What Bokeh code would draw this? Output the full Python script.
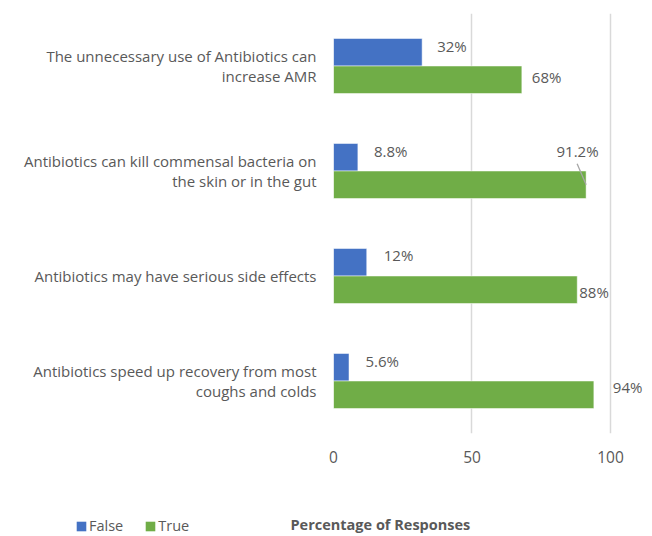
from bokeh.plotting import figure
from bokeh.models import (ColumnDataSource, FixedTicker, Legend, LegendItem, Label, Range1d)
from bokeh.layouts import column
from bokeh.embed import file_html
from bokeh.resources import INLINE
from bokeh.core.properties import value

# ---- data ----
categories = [
    "The unnecessary use of Antibiotics can\nincrease AMR",
    "Antibiotics can kill commensal bacteria on\nthe skin or in the gut",
    "Antibiotics may have serious side effects",
    "Antibiotics speed up recovery from most\ncoughs and colds",
]
series_names = ["False", "True"]
false_vals = [32, 8.8, 12, 5.6]
true_vals = [68, 91.2, 88, 94]
false_labels = ["32%", "8.8%", "12%", "5.6%"]
true_labels = ["68%", "91.2%", "88%", "94%"]
x_ticks = [0, 50, 100]
axis_title = "Percentage of Responses"

# ---- styles ----
FONT = "Open Sans"
GRAY = "#595959"
BLUE = "#4472C4"
GREEN = "#70AD47"
BAR_H = 0.262
# label nudges (screen px)
false_dx = [15, 16, 17, 16.5]
false_dy = [-6, -6, -7, -6]
true_dx = [10, -29.6, 2, 19]
true_dy = [-3, -34, 2.5, -8]

n = len(categories)
pos = [n - 1 - i for i in range(n)]  # first category at the top

src_f = ColumnDataSource(dict(y=[q + BAR_H / 2 for q in pos], v=false_vals,
                              lab=false_labels, dx=false_dx, dy=false_dy))
src_t = ColumnDataSource(dict(y=[q - BAR_H / 2 for q in pos], v=true_vals,
                              lab=true_labels, dx=true_dx, dy=true_dy))

W = 652
H_MAIN = 470
H_LEG = 536 - H_MAIN

p = figure(width=W, height=H_MAIN, output_backend="svg", toolbar_location=None,
           x_range=(0, 113), y_range=(-0.5, n - 0.5),
           min_border_left=333, min_border_right=6, min_border_top=13,
           min_border_bottom=H_MAIN - 433)
p.frame_align = False
p.outline_line_color = None
p.background_fill_color = "white"
p.border_fill_color = "white"

rf = p.hbar(y="y", right="v", left=0, height=BAR_H, source=src_f,
            fill_color=BLUE, line_color="white", line_width=0.5)
rt = p.hbar(y="y", right="v", left=0, height=BAR_H, source=src_t,
            fill_color=GREEN, line_color="white", line_width=0.5)

for s in (src_f, src_t):
    p.text(x="v", y="y", text="lab", x_offset="dx", y_offset="dy", source=s,
           text_font=value(FONT), text_font_size="15px", text_color=GRAY,
           text_align="left", text_baseline="middle")

# leader line for the 91.2% label
i_l = 1
p.segment(x0=[true_vals[i_l] - 3.25], y0=[pos[i_l] - BAR_H / 2 + 0.2],
          x1=[true_vals[i_l]], y1=[pos[i_l] - BAR_H / 2],
          line_color="#A6A6A6", line_width=1.3)

# axes
p.xaxis.ticker = FixedTicker(ticks=x_ticks)
p.xaxis.axis_line_color = None
p.xaxis.major_tick_line_color = None
p.xaxis.major_tick_out = 0
p.xaxis.minor_tick_line_color = None
p.xaxis.minor_tick_out = 0
p.xaxis.major_label_text_font = FONT
p.xaxis.major_label_text_font_size = "15.5px"
p.xaxis.major_label_text_color = GRAY
p.xaxis.major_label_standoff = 17

p.yaxis.ticker = FixedTicker(ticks=pos)
p.yaxis.major_label_overrides = {pos[i]: categories[i] for i in range(n)}
p.yaxis.axis_line_color = None
p.yaxis.major_tick_line_color = None
p.yaxis.major_tick_out = 0
p.yaxis.minor_tick_line_color = None
p.yaxis.minor_tick_out = 0
p.yaxis.major_label_text_font = FONT
p.yaxis.major_label_text_font_size = "15px"
p.yaxis.major_label_text_color = GRAY
p.yaxis.major_label_text_line_height = 1.0
p.yaxis.major_label_standoff = 17

p.xgrid.ticker = FixedTicker(ticks=x_ticks)
p.xgrid.grid_line_color = "#D9D9D9"
p.xgrid.grid_line_width = 1.5
p.ygrid.grid_line_color = None

# ---- bottom strip: legend and axis title ----
p2 = figure(width=W, height=H_LEG, output_backend="svg", toolbar_location=None,
            x_range=Range1d(0, W), y_range=Range1d(0, H_LEG),
            x_axis_type=None, y_axis_type=None,
            min_border_left=0, min_border_right=0, min_border_top=0,
            min_border_bottom=0)
p2.frame_align = False
p2.outline_line_color = None
p2.grid.visible = False
# legend keys (drawn off-range; only their swatches are shown)
lf = p2.hbar(y=[-100], right=[1], left=0, height=1, fill_color=BLUE, line_color=None)
lt = p2.hbar(y=[-100], right=[1], left=0, height=1, fill_color=GREEN, line_color=None)

legend = Legend(items=[LegendItem(label=series_names[0], renderers=[lf]),
                       LegendItem(label=series_names[1], renderers=[lt])],
                orientation="horizontal", location=(75, 1),
                glyph_width=12, glyph_height=12, label_height=16,
                label_standoff=2, spacing=21, padding=0, margin=0,
                border_line_color=None, background_fill_alpha=0,
                label_text_font=FONT, label_text_font_size="14.5px",
                label_text_color=GRAY)
p2.add_layout(legend, "center")

title = Label(x=290, y=12, x_units="screen", y_units="screen",
              text=axis_title, text_font=FONT,
              text_font_size="14.5px", text_font_style="bold",
              text_color=GRAY, text_baseline="middle", text_align="left")
p2.add_layout(title)

layout = column(p, p2, spacing=0)
open("out.html", "w").write(file_html(layout, INLINE))
